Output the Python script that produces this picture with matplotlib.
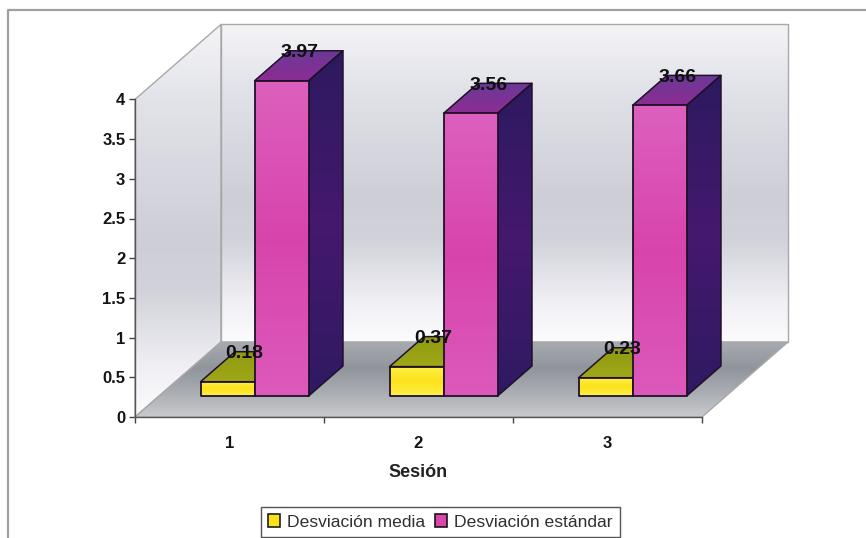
import numpy as np
import matplotlib
matplotlib.use("Agg")
import matplotlib.pyplot as plt
from matplotlib.colors import LinearSegmentedColormap as LSC
from matplotlib.lines import Line2D
from matplotlib.patches import Polygon, Rectangle

sessions = ["1", "2", "3"]
desv_media = [0.18, 0.37, 0.23]
desv_estandar = [3.97, 3.56, 3.66]
series_names = ["Desviación media", "Desviación estándar"]
y_ticks = [0, 0.5, 1, 1.5, 2, 2.5, 3, 3.5, 4]
y_labels = ["0", "0.5", "1", "1.5", "2", "2.5", "3", "3.5", "4"]

W, H = 866, 538
plt.rcParams["font.family"] = ["Liberation Sans", "DejaVu Sans"]
fig = plt.figure(figsize=(W / 100, H / 100), dpi=100, facecolor="white")
ax = fig.add_axes([135 / W, (H - 417) / H, 567 / W, 317.6 / H])
ax.patch.set_alpha(0)
ax.set_xlim(0, 3)
ax.set_ylim(0, 4)

# depth direction, in data units per unit depth
DX = 86 / 189
DY = 75 / 79.4
BW = 54 / 189
D0, D1 = 0.28, 0.68


def p(x, y, d=0.0):
    return (x + d * DX, y + d * DY)


def grad(verts, colors, stops=None, z=1, edge=None, lw=1.0):
    xs = [v[0] for v in verts]
    ys = [v[1] for v in verts]
    stops = stops if stops else np.linspace(0, 1, len(colors))
    cmap = LSC.from_list("g", list(zip(stops, colors)))
    arr = np.linspace(0, 1, 256).reshape(-1, 1)
    im = ax.imshow(arr, cmap=cmap, vmin=0, vmax=1, aspect="auto", zorder=z,
                   extent=(min(xs), max(xs), min(ys), max(ys)), interpolation="bilinear")
    poly = Polygon(verts, closed=True, transform=ax.transData, fill=False,
                   ec=edge if edge else "none", lw=lw, zorder=z + 0.01, clip_on=False,
                   joinstyle="round")
    ax.add_patch(poly)
    im.set_clip_path(poly)
    im.set_clip_box(fig.bbox)
    return im


wall_cols = ["#f4f4f7", "#e2e3e9", "#cdced6", "#d2d3da", "#f0f0f5", "#fcfcfe"]
wall_stops = [0, 0.2, 0.55, 0.68, 0.88, 1]
grid_edge = "#a8a8a8"
grad([p(0, 0), p(0, 4), p(0, 4, 1), p(0, 0, 1)], wall_cols, wall_stops, z=1, edge=grid_edge)
grad([p(0, 0, 1), p(0, 4, 1), p(3, 4, 1), p(3, 0, 1)], wall_cols, wall_stops, z=1, edge=grid_edge)
grad([p(0, 0), p(0, 0, 1), p(3, 0, 1), p(3, 0)],
     ["#a8abb0", "#90959c", "#a8acb1", "#c8cacd"], [0, 0.35, 0.65, 1], z=1.5, edge=grid_edge)


def bar(x, val, front, top, side, z):
    x1 = x + BW
    grad([p(x, val, D0), p(x, val, D1), p(x1, val, D1), p(x1, val, D0)], top, z=z, edge="#20102a", lw=1.1)
    grad([p(x1, 0, D0), p(x1, val, D0), p(x1, val, D1), p(x1, 0, D1)], side, z=z, edge="#20102a", lw=1.1)
    grad([p(x, 0, D0), p(x, val, D0), p(x1, val, D0), p(x1, 0, D0)], front, z=z + 0.1, edge="#20102a", lw=1.3)


for i, (a, b) in enumerate(zip(desv_media, desv_estandar)):
    base = 0.5 + i - BW + 1 / 189
    bar(base, a, ["#fff04a", "#fbe21a", "#fff04a"], ["#8f9a10", "#a0a818"], ["#5a5a08", "#5a5a08"], 3 + i)
    bar(base + BW, b, ["#dc60be", "#d844ac", "#dc5abb"],
        ["#6a3a96", "#8c2c94"], ["#2d1a60", "#45186e", "#2f1a62"], 3.3 + i)
    ax.text(*p(base + BW / 2 + 17 / 189, a + 28 / 79.4, D0), f"{a:.2f}", ha="center", va="center",
            fontsize=14, fontweight="bold", color="#101010", zorder=9)
    ax.text(*p(base + 1.5 * BW + 18 / 189, b + 28 / 79.4, D0), f"{b:.2f}", ha="center", va="center",
            fontsize=14, fontweight="bold", color="#101010", zorder=9)

for s in ("top", "right"):
    ax.spines[s].set_visible(False)
for s in ("left", "bottom"):
    ax.spines[s].set_color("#555555")
    ax.spines[s].set_linewidth(1.0)
    ax.spines[s].set_zorder(2)

ax.set_yticks(y_ticks)
ax.set_yticklabels(y_labels, fontsize=12, fontweight="bold", color="#151515")
ax.set_xticks([0, 1, 2, 3])
ax.set_xticklabels([])
ax.set_xticks([0.5, 1.5, 2.5], minor=True)
ax.set_xticklabels(sessions, minor=True, fontsize=12, fontweight="bold", color="#151515")
ax.tick_params(axis="x", which="minor", length=0, pad=14)
ax.tick_params(axis="both", which="major", length=4, width=1, color="#444444")
ax.tick_params(axis="y", pad=3)
ax.set_xlabel("Sesión", fontsize=13, fontweight="bold", color="#222222", labelpad=9)

# chart frame: only the top and left edges fall inside the picture
fig.add_artist(Line2D([8 / W, 8 / W, 1], [0, (H - 10) / H, (H - 10) / H], color="#a0a0a0", lw=1.6,
                      transform=fig.transFigure))

h1 = Rectangle((0, 0), 1, 1, fc="#fbe21a", ec="#20201a", lw=1.2)
h2 = Rectangle((0, 0), 1, 1, fc="#d848ac", ec="#20101a", lw=1.2)
leg = fig.legend([h1, h2], series_names, ncol=2, loc="center",
                 bbox_to_anchor=(440.5 / W, (H - 522) / H), fontsize=12.6, frameon=True, fancybox=False,
                 edgecolor="#555555", framealpha=1, borderpad=0.42, handlelength=0.7, handleheight=0.7,
                 handletextpad=0.4, columnspacing=0.55, labelcolor="#303030")
leg.get_frame().set_linewidth(1.0)

fig.savefig("out.png", dpi=100)
